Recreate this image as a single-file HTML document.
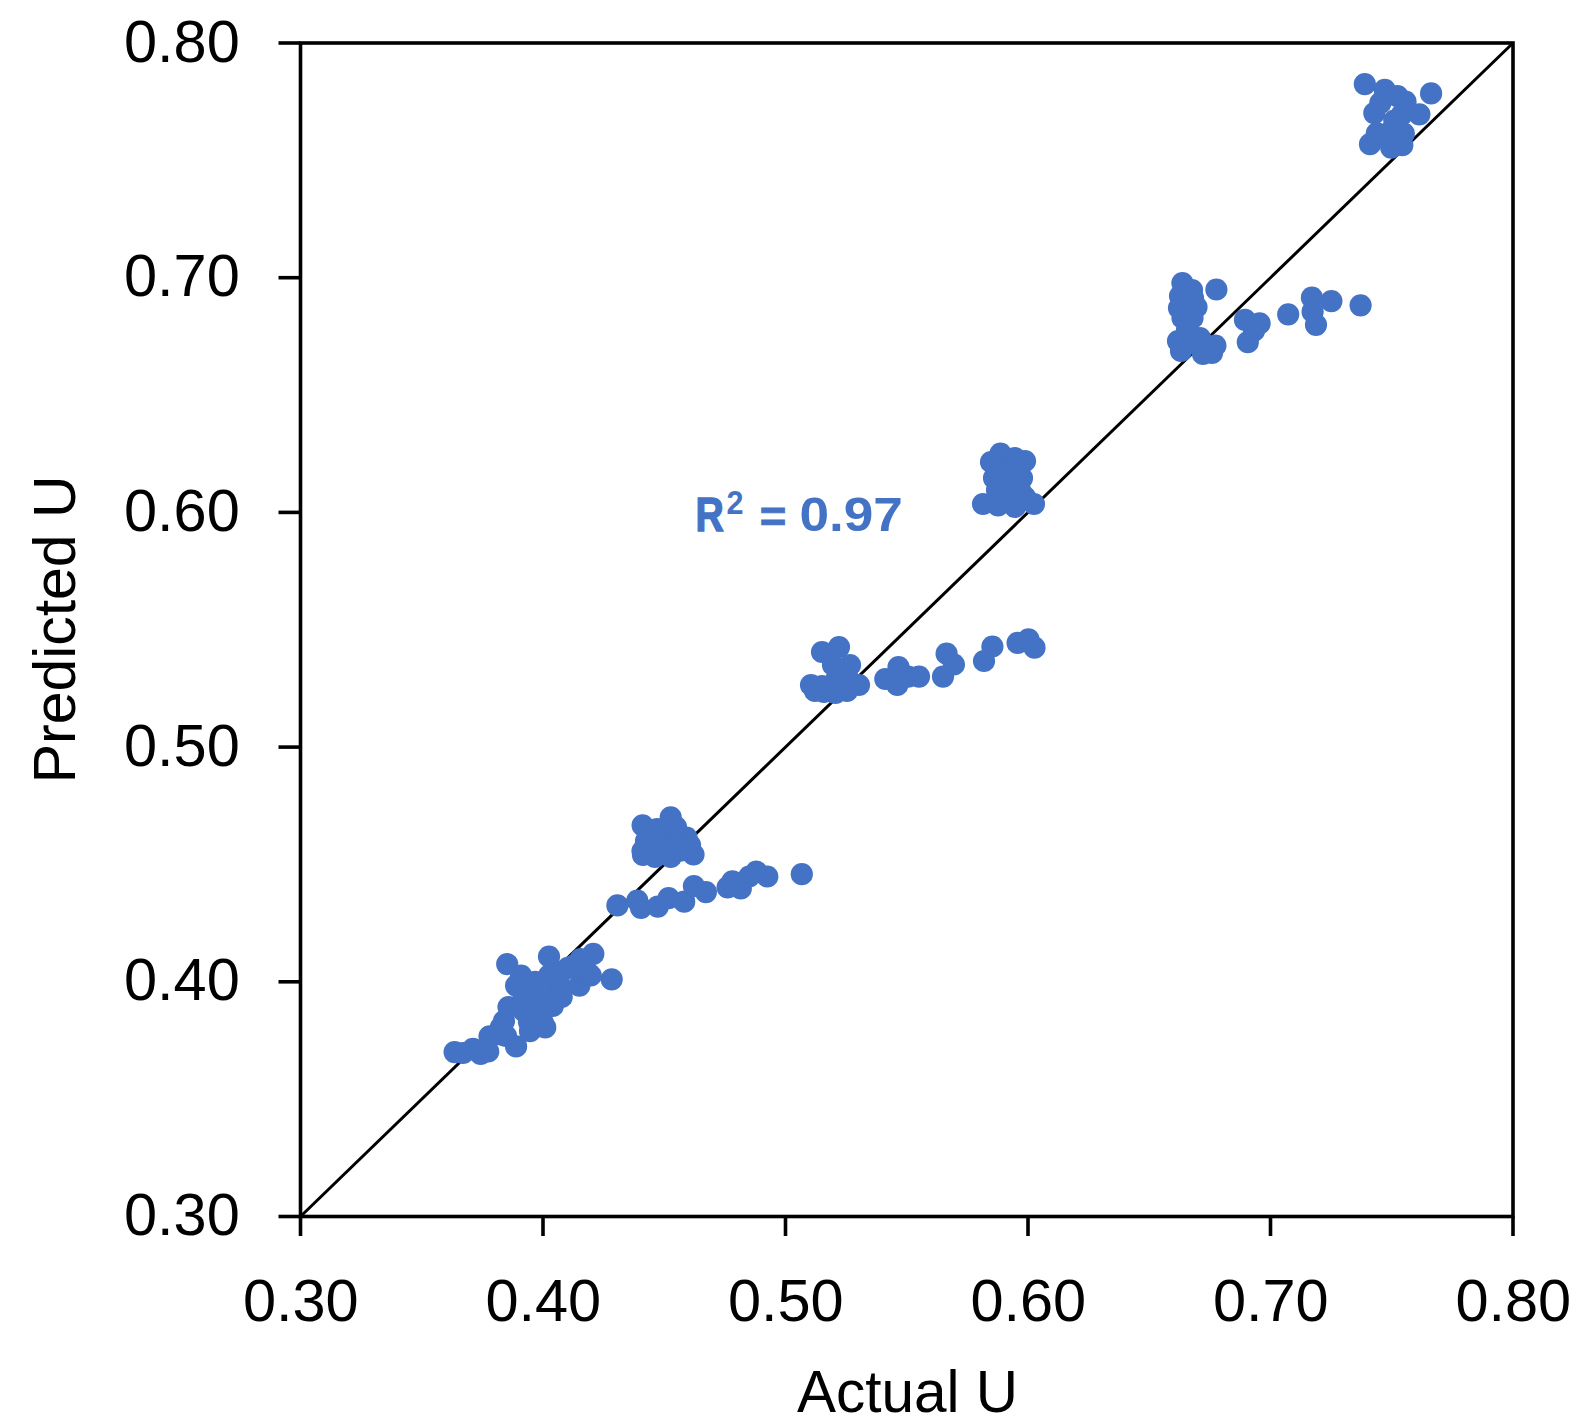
<!DOCTYPE html>
<html><head><meta charset="utf-8"><style>
html,body{margin:0;padding:0;background:#fff;}
body{width:1579px;height:1426px;overflow:hidden;}
svg{display:block;}
.t{font-family:"Liberation Sans",sans-serif;font-size:59.5px;fill:#000;}
.r{font-family:"Liberation Sans",sans-serif;font-size:100px;font-weight:bold;fill:#4472C4;}
</style></head><body>
<svg width="1579" height="1426" viewBox="0 0 1579 1426">
<rect x="300.5" y="43.0" width="1212.5" height="1173.5" fill="none" stroke="#000" stroke-width="3.6"/>
<line x1="278.5" y1="1216.50" x2="300.5" y2="1216.50" stroke="#000" stroke-width="3.6"/>
<line x1="300.50" y1="1216.5" x2="300.50" y2="1236" stroke="#000" stroke-width="3.6"/>
<line x1="278.5" y1="981.80" x2="300.5" y2="981.80" stroke="#000" stroke-width="3.6"/>
<line x1="543.00" y1="1216.5" x2="543.00" y2="1236" stroke="#000" stroke-width="3.6"/>
<line x1="278.5" y1="747.10" x2="300.5" y2="747.10" stroke="#000" stroke-width="3.6"/>
<line x1="785.50" y1="1216.5" x2="785.50" y2="1236" stroke="#000" stroke-width="3.6"/>
<line x1="278.5" y1="512.40" x2="300.5" y2="512.40" stroke="#000" stroke-width="3.6"/>
<line x1="1028.00" y1="1216.5" x2="1028.00" y2="1236" stroke="#000" stroke-width="3.6"/>
<line x1="278.5" y1="277.70" x2="300.5" y2="277.70" stroke="#000" stroke-width="3.6"/>
<line x1="1270.50" y1="1216.5" x2="1270.50" y2="1236" stroke="#000" stroke-width="3.6"/>
<line x1="278.5" y1="43.00" x2="300.5" y2="43.00" stroke="#000" stroke-width="3.6"/>
<line x1="1513.00" y1="1216.5" x2="1513.00" y2="1236" stroke="#000" stroke-width="3.6"/>
<line x1="300.5" y1="1216.5" x2="1513.0" y2="43.0" stroke="#000" stroke-width="3.0"/>
<g fill="#4472C4"><circle cx="1364.8" cy="84.1" r="11.1"/><circle cx="1431.1" cy="93.4" r="11.1"/><circle cx="1384.8" cy="89.9" r="11.1"/><circle cx="1397.5" cy="96.2" r="11.1"/><circle cx="1405.5" cy="101.7" r="11.1"/><circle cx="1419.4" cy="114.3" r="11.1"/><circle cx="1374.3" cy="113.1" r="11.1"/><circle cx="1380.4" cy="102.9" r="11.1"/><circle cx="1402" cy="114.3" r="11.1"/><circle cx="1370" cy="144.2" r="11.1"/><circle cx="1391.2" cy="147.6" r="11.1"/><circle cx="1402.3" cy="145.2" r="11.1"/><circle cx="1403.8" cy="133.5" r="11.1"/><circle cx="1376.8" cy="133.3" r="11.1"/><circle cx="1388" cy="133.3" r="11.1"/><circle cx="1394.3" cy="120.7" r="11.1"/><circle cx="1216.4" cy="289.5" r="11.1"/><circle cx="1182.4" cy="283" r="11.1"/><circle cx="1192" cy="290" r="11.1"/><circle cx="1180" cy="296" r="11.1"/><circle cx="1193" cy="298" r="11.1"/><circle cx="1179" cy="308" r="11.1"/><circle cx="1196.5" cy="307" r="11.1"/><circle cx="1182.5" cy="318" r="11.1"/><circle cx="1192.5" cy="318" r="11.1"/><circle cx="1188" cy="312" r="11.1"/><circle cx="1187" cy="330" r="11.1"/><circle cx="1178" cy="341" r="11.1"/><circle cx="1181" cy="351" r="11.1"/><circle cx="1203" cy="354" r="11.1"/><circle cx="1212" cy="353" r="11.1"/><circle cx="1215.4" cy="345.5" r="11.1"/><circle cx="1200" cy="338" r="11.1"/><circle cx="1190" cy="343" r="11.1"/><circle cx="1360.6" cy="305.3" r="11.1"/><circle cx="1288.2" cy="314.3" r="11.1"/><circle cx="1311.9" cy="297.6" r="11.1"/><circle cx="1331.4" cy="301.1" r="11.1"/><circle cx="1312.6" cy="311.7" r="11.1"/><circle cx="1254" cy="330.7" r="11.1"/><circle cx="1316" cy="324.8" r="11.1"/><circle cx="1245" cy="319.9" r="11.1"/><circle cx="1259.6" cy="323.4" r="11.1"/><circle cx="1247.8" cy="342.2" r="11.1"/><circle cx="1000.5" cy="453.6" r="11.1"/><circle cx="1025" cy="461" r="11.1"/><circle cx="1015" cy="458" r="11.1"/><circle cx="991" cy="462" r="11.1"/><circle cx="994" cy="478" r="11.1"/><circle cx="1022" cy="478" r="11.1"/><circle cx="1008" cy="482" r="11.1"/><circle cx="997" cy="490" r="11.1"/><circle cx="1020" cy="490" r="11.1"/><circle cx="983" cy="504" r="11.1"/><circle cx="998" cy="505.5" r="11.1"/><circle cx="1015" cy="507" r="11.1"/><circle cx="1034" cy="504" r="11.1"/><circle cx="1010" cy="470" r="11.1"/><circle cx="1008" cy="495" r="11.1"/><circle cx="1025" cy="497" r="11.1"/><circle cx="885.3" cy="679" r="11.1"/><circle cx="898.5" cy="667" r="11.1"/><circle cx="908.1" cy="676.6" r="11.1"/><circle cx="897.3" cy="685" r="11.1"/><circle cx="919" cy="676.6" r="11.1"/><circle cx="946.6" cy="653.7" r="11.1"/><circle cx="953.9" cy="664.5" r="11.1"/><circle cx="943" cy="676.6" r="11.1"/><circle cx="992.4" cy="646.5" r="11.1"/><circle cx="984" cy="661" r="11.1"/><circle cx="1017.6" cy="642.9" r="11.1"/><circle cx="1028.5" cy="639.3" r="11.1"/><circle cx="1034.5" cy="647.7" r="11.1"/><circle cx="839" cy="647" r="11.1"/><circle cx="822" cy="652" r="11.1"/><circle cx="850" cy="665" r="11.1"/><circle cx="833" cy="665" r="11.1"/><circle cx="811" cy="685" r="11.1"/><circle cx="815" cy="691" r="11.1"/><circle cx="859" cy="685" r="11.1"/><circle cx="847" cy="691" r="11.1"/><circle cx="824" cy="692" r="11.1"/><circle cx="836" cy="680" r="11.1"/><circle cx="847" cy="676" r="11.1"/><circle cx="835.5" cy="693" r="11.1"/><circle cx="822" cy="686" r="11.1"/><circle cx="670.7" cy="817.4" r="11.1"/><circle cx="642.6" cy="825.3" r="11.1"/><circle cx="642.5" cy="851" r="11.1"/><circle cx="643" cy="855" r="11.1"/><circle cx="655" cy="840" r="11.1"/><circle cx="670.7" cy="857" r="11.1"/><circle cx="693.5" cy="854.5" r="11.1"/><circle cx="686.5" cy="837.6" r="11.1"/><circle cx="690" cy="845" r="11.1"/><circle cx="657" cy="829" r="11.1"/><circle cx="675" cy="840" r="11.1"/><circle cx="655" cy="857" r="11.1"/><circle cx="646" cy="841" r="11.1"/><circle cx="676" cy="827" r="11.1"/><circle cx="663.7" cy="846.9" r="11.1"/><circle cx="680.2" cy="850.7" r="11.1"/><circle cx="617.4" cy="905.4" r="11.1"/><circle cx="637.3" cy="900.5" r="11.1"/><circle cx="641" cy="907.8" r="11.1"/><circle cx="657.8" cy="906.6" r="11.1"/><circle cx="668.6" cy="898.1" r="11.1"/><circle cx="684.2" cy="901.7" r="11.1"/><circle cx="693.9" cy="886.1" r="11.1"/><circle cx="705.9" cy="892.1" r="11.1"/><circle cx="732.4" cy="881.3" r="11.1"/><circle cx="740.8" cy="888.5" r="11.1"/><circle cx="727.6" cy="887.3" r="11.1"/><circle cx="756.4" cy="871.7" r="11.1"/><circle cx="767.3" cy="876.5" r="11.1"/><circle cx="749.2" cy="876.5" r="11.1"/><circle cx="801.8" cy="874.2" r="11.1"/><circle cx="500.2" cy="1034.4" r="11.1"/><circle cx="504" cy="1021" r="11.1"/><circle cx="529" cy="1022" r="11.1"/><circle cx="506" cy="1036" r="11.1"/><circle cx="463" cy="1053" r="11.1"/><circle cx="454.6" cy="1052.1" r="11.1"/><circle cx="473.0" cy="1048.9" r="11.1"/><circle cx="480.6" cy="1054.0" r="11.1"/><circle cx="488.2" cy="1051.5" r="11.1"/><circle cx="500.9" cy="1027.4" r="11.1"/><circle cx="489.5" cy="1036.3" r="11.1"/><circle cx="516.1" cy="1046.4" r="11.1"/><circle cx="530.0" cy="1031.2" r="11.1"/><circle cx="545.2" cy="1027.4" r="11.1"/><circle cx="508.5" cy="1007.1" r="11.1"/><circle cx="507.2" cy="964.1" r="11.1"/><circle cx="521.1" cy="975.5" r="11.1"/><circle cx="516.1" cy="985.6" r="11.1"/><circle cx="549.0" cy="956.5" r="11.1"/><circle cx="593.3" cy="953.9" r="11.1"/><circle cx="611.7" cy="979.3" r="11.1"/><circle cx="579.4" cy="985.6" r="11.1"/><circle cx="552.8" cy="1005.9" r="11.1"/><circle cx="535.1" cy="981.8" r="11.1"/><circle cx="549.0" cy="975.5" r="11.1"/><circle cx="561.7" cy="971.7" r="11.1"/><circle cx="574.3" cy="965.3" r="11.1"/><circle cx="587.0" cy="971.7" r="11.1"/><circle cx="523.7" cy="997.0" r="11.1"/><circle cx="536.3" cy="997.0" r="11.1"/><circle cx="549.0" cy="990.7" r="11.1"/><circle cx="561.7" cy="988.1" r="11.1"/><circle cx="523.7" cy="1010.9" r="11.1"/><circle cx="536.3" cy="1013.5" r="11.1"/><circle cx="542.7" cy="1022.3" r="11.1"/><circle cx="568.0" cy="967.9" r="11.1"/><circle cx="580.7" cy="959.0" r="11.1"/><circle cx="590.8" cy="975.5" r="11.1"/><circle cx="561.7" cy="997.0" r="11.1"/></g>
<text x="239.8" y="1235.00" text-anchor="end" class="t" style="font-size:59.5px">0.30</text>
<text x="300.80" y="1321" text-anchor="middle" class="t" style="font-size:59.5px">0.30</text>
<text x="239.8" y="1000.30" text-anchor="end" class="t" style="font-size:59.5px">0.40</text>
<text x="543.30" y="1321" text-anchor="middle" class="t" style="font-size:59.5px">0.40</text>
<text x="239.8" y="765.60" text-anchor="end" class="t" style="font-size:59.5px">0.50</text>
<text x="785.80" y="1321" text-anchor="middle" class="t" style="font-size:59.5px">0.50</text>
<text x="239.8" y="530.90" text-anchor="end" class="t" style="font-size:59.5px">0.60</text>
<text x="1028.30" y="1321" text-anchor="middle" class="t" style="font-size:59.5px">0.60</text>
<text x="239.8" y="296.20" text-anchor="end" class="t" style="font-size:59.5px">0.70</text>
<text x="1270.80" y="1321" text-anchor="middle" class="t" style="font-size:59.5px">0.70</text>
<text x="239.8" y="61.50" text-anchor="end" class="t" style="font-size:59.5px">0.80</text>
<text x="1513.30" y="1321" text-anchor="middle" class="t" style="font-size:59.5px">0.80</text>
<text x="907.5" y="1412" text-anchor="middle" class="t" style="font-size:58.5px">Actual U</text>
<text transform="translate(75,629.4) rotate(-90)" x="0" y="0" text-anchor="middle" class="t" style="font-size:58.9px">Predicted U</text>
<text transform="translate(695.4,530.8) scale(0.392,0.486)" class="r" stroke="#4472C4" stroke-width="3">R</text>
<text transform="translate(726.6,513.7) scale(0.306,0.329)" class="r">2</text>
<text transform="translate(759.8,531.5) scale(0.455,0.445)" class="r" stroke="#4472C4" stroke-width="2">=</text>
<text transform="translate(799.4,530.7) scale(0.532,0.485)" class="r">0.97</text>
</svg>
</body></html>
